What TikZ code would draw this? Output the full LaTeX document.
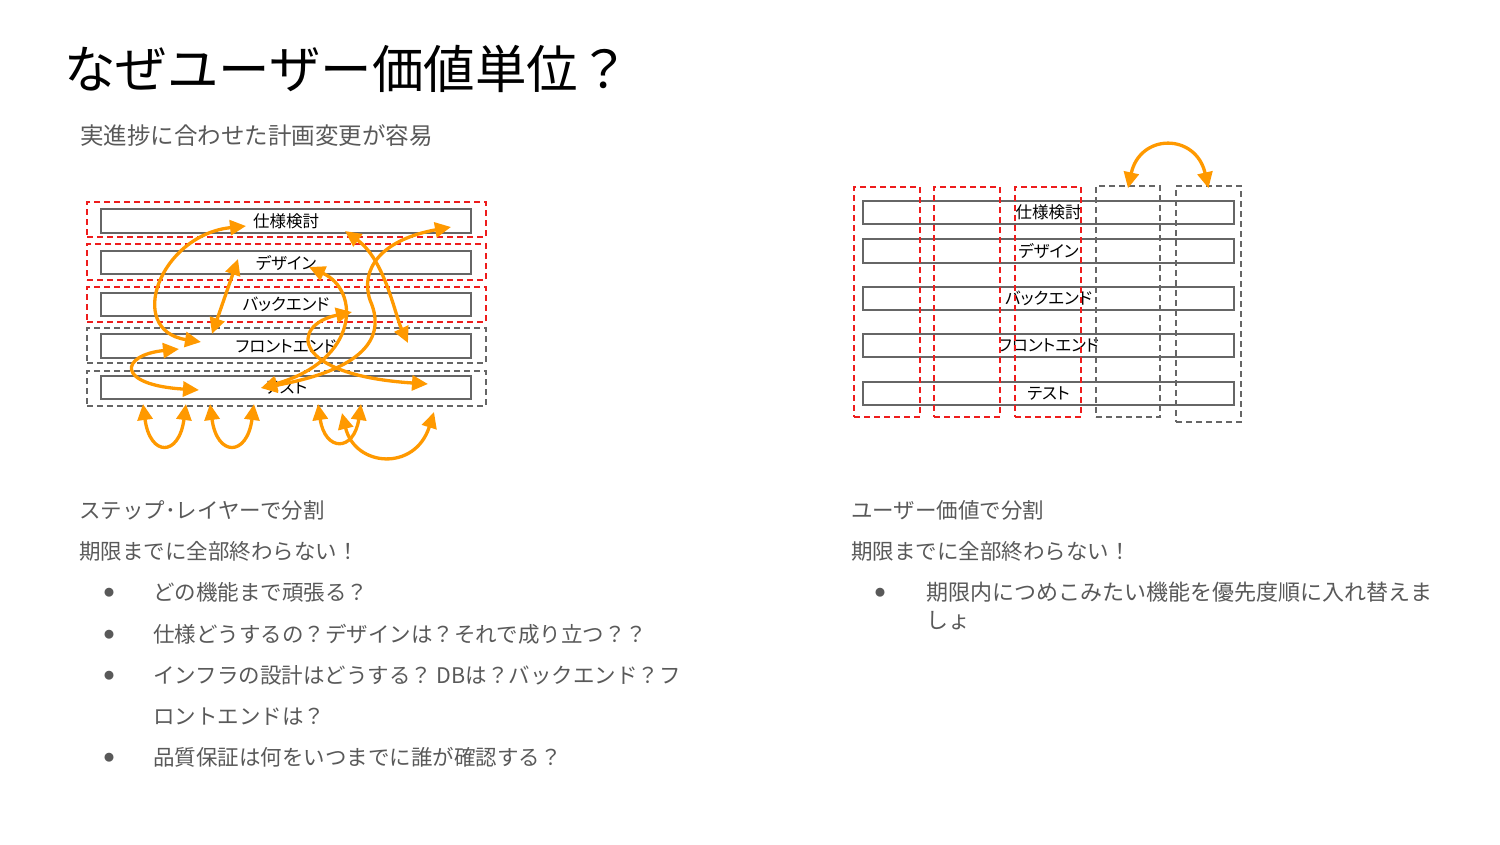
\documentclass[tikz,border=0pt]{standalone}
\usepackage{fontspec}
\setmainfont{Noto Sans CJK JP}
\newfontfamily\lblfont[RawFeature=+palt]{Noto Sans CJK JP}
\usetikzlibrary{arrows.meta}
\definecolor{txtgray}{HTML}{595959}
\definecolor{boxgray}{HTML}{666666}
\definecolor{dashred}{HTML}{EE1C1C}
\definecolor{dashgray}{HTML}{666666}
\definecolor{orng}{HTML}{FF9900}
\begin{document}
\begin{tikzpicture}[x=1pt,y=-1pt,
 lbox/.style={draw=boxgray, line width=1.6pt, minimum height=23pt, minimum width=371pt, inner sep=0pt, font=\lblfont\fontsize{16.5}{17}\selectfont},
 rframe/.style={draw=dashred, line width=1.5pt, dash pattern=on 6pt off 4pt, inner sep=0pt},
 gframe/.style={draw=dashgray, line width=1.5pt, dash pattern=on 6pt off 4pt, inner sep=0pt},
 oarr/.style={draw=orng, line width=3.3pt, {Triangle[length=16pt,width=15pt]}-{Triangle[length=16pt,width=15pt]}},
 ttl/.style={anchor=base west, inner sep=0pt, font=\fontsize{51.5}{60}\selectfont},
 body/.style={anchor=base west, inner sep=0pt, text=txtgray, font=\fontsize{21.5}{26}\selectfont},
 bodyr/.style={anchor=base west, inner sep=0pt, text=txtgray, font=\fontsize{22}{26}\selectfont},
 bul/.style={anchor=center, inner sep=0pt, text=txtgray, font=\fontsize{10}{12}\selectfont}
]
\useasboundingbox (0,0) rectangle (1500,844);

% title and subtitle
\node[ttl] (title) at (64,88) {なぜユーザー価値単位？};
\node[anchor=base west, inner sep=0pt, text=txtgray, font=\fontsize{23.5}{26}\selectfont] (sub) at (80,144) {実進捗に合わせた計画変更が容易};

% ---------- left diagram ----------
\node[rframe, minimum width=399pt, minimum height=35pt] (LF1) at (286.5,219.5) {};
\node[rframe, minimum width=399pt, minimum height=36pt] (LF2) at (286.5,262) {};
\node[rframe, minimum width=399pt, minimum height=35pt] (LF3) at (286.5,304.5) {};
\node[gframe, minimum width=399pt, minimum height=35pt] (LF4) at (286.5,345.5) {};
\node[gframe, minimum width=399pt, minimum height=35pt] (LF5) at (286.5,388.5) {};

\node[lbox, minimum width=370pt, minimum height=24pt] (L1) at (286,221) {仕様検討};
\node[lbox, minimum width=370pt] (L2) at (286,262.5) {デザイン};
\node[lbox, minimum width=370pt] (L3) at (286,304.5) {バックエンド};
\node[lbox, minimum width=370pt, minimum height=24pt] (L4) at (286,346) {フロントエンド};
\node[lbox, minimum width=370pt] (L5) at (286,387.5) {テスト};

% arrow end points
\coordinate (a1) at (246,226);  \coordinate (a2) at (201,342);
\coordinate (b1) at (238,259);  \coordinate (b2) at (212,334);
\coordinate (c1) at (309,267);  \coordinate (c2) at (261,388);
\coordinate (g1) at (352,312);  \coordinate (g2) at (428,384);
\coordinate (f1) at (451,227);  \coordinate (fm) at (370,300); \coordinate (f2) at (261,388);
\coordinate (e1) at (345,231);  \coordinate (e2) at (408,343);
\coordinate (d1) at (179,349);  \coordinate (d2) at (199,390);
\coordinate (p1a) at (143,404); \coordinate (p1b) at (186,404);
\coordinate (p2a) at (210,404); \coordinate (p2b) at (254,404);
\coordinate (p3a) at (318,404); \coordinate (p3b) at (361,404);
\coordinate (p4a) at (342,413); \coordinate (p4b) at (434,412);

\draw[oarr] (a1) .. controls (160,235) and (125,330) .. (a2);
\draw[oarr] (b1) -- (b2);
\draw[oarr] (c1) .. controls (360,290) and (360,360) .. (c2);
\draw[oarr] (g1) .. controls (290,325) and (290,375) .. (g2);
\draw[oarr] (f1) .. controls (380,240) and (360,270) .. (fm) .. controls (390,345) and (350,372) .. (f2);
\draw[oarr] (e1) .. controls (385,260) and (395,315) .. (e2);
\draw[oarr] (d1) .. controls (120,355) and (115,385) .. (d2);
\draw[oarr] (p1a) .. controls (150,457) and (179,457) .. (p1b);
\draw[oarr] (p2a) .. controls (217,457) and (247,457) .. (p2b);
\draw[oarr] (p3a) .. controls (325,452) and (354,452) .. (p3b);
\draw[oarr] (p4a) .. controls (355,467) and (415,472) .. (p4b);

% ---------- right diagram ----------
\node[lbox, minimum height=23pt] (R1) at (1048.5,212.5) {仕様検討};
\node[lbox, minimum height=24pt] (R2) at (1048.5,251) {デザイン};
\node[lbox, minimum height=23pt] (R3) at (1048.5,298.5) {バックエンド};
\node[lbox, minimum height=23pt] (R4) at (1048.5,345.5) {フロントエンド};
\node[lbox, minimum height=23pt] (R5) at (1048.5,393.5) {テスト};

\node[rframe, minimum width=66pt, minimum height=230pt] (C1) at (887,302) {};
\node[rframe, minimum width=66pt, minimum height=230pt] (C2) at (967,302) {};
\node[rframe, minimum width=66pt, minimum height=230pt] (C3) at (1048,302) {};
\node[gframe, minimum width=64pt, minimum height=231pt] (C4) at (1128,301.5) {};
\node[gframe, minimum width=65pt, minimum height=236pt] (C5) at (1208.5,304) {};

\draw[oarr] ([yshift=-3pt]C4.north) .. controls (1140,133) and (1196,133) .. ([yshift=-3pt]C5.north);

% ---------- left text ----------
\node[body] (lt1) at (79,518) {ステップ･レイヤーで分割};
\node[body] (lt2) at (79,559) {期限までに全部終わらない！};
\node[bul] (lb1) at (109,593) {●};
\node[body] (lt3) at (153,600) {どの機能まで頑張る？};
\node[bul] (lb2) at (109,635) {●};
\node[body] (lt4) at (153,642) {仕様どうするの？デザインは？それで成り立つ？？};
\node[bul] (lb3) at (109,676) {●};
\node[body] (lt5) at (153,683) {インフラの設計はどうする？ DBは？バックエンド？フ};
\node[body] (lt6) at (153,724) {ロントエンドは？};
\node[bul] (lb4) at (109,758) {●};
\node[body] (lt7) at (153,765) {品質保証は何をいつまでに誰が確認する？};

% ---------- right text ----------
\node[body] (rt1) at (851,518) {ユーザー価値で分割};
\node[body] (rt2) at (851,559) {期限までに全部終わらない！};
\node[bul] (rb1) at (880,593) {●};
\node[bodyr] (rt3) at (926,600) {期限内につめこみたい機能を優先度順に入れ替えま};
\node[bodyr] (rt4) at (926,628) {しょ};
\end{tikzpicture}
\end{document}
